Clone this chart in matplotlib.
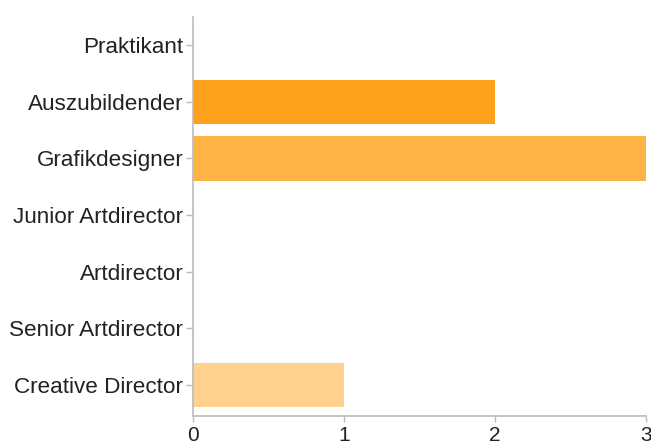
import matplotlib
matplotlib.use('Agg')
import matplotlib.pyplot as plt

categories = ['Praktikant', 'Auszubildender', 'Grafikdesigner', 'Junior Artdirector',
              'Artdirector', 'Senior Artdirector', 'Creative Director']
counts = [0, 2, 3, 0, 0, 0, 1]
barColors = ['#FF8C00', '#FFA01C', '#FFB347', '#FFBE5C', '#FFC670', '#FFCC80', '#FFD38E']
xTicks = [0, 1, 2, 3]

plt.rcParams['font.family'] = ['Liberation Sans', 'DejaVu Sans']

fig = plt.figure(figsize=(6.51, 4.46), dpi=100)
ax = fig.add_axes([193/651, 1 - 416/446, (646 - 193)/651, (416 - 17)/446])

positions = list(range(len(categories)))
ax.barh(positions, counts, height=0.79, color=barColors)

ax.set_yticks(positions)
ax.set_yticklabels(categories)
ax.set_xticks(xTicks)
ax.set_xticklabels([str(t) for t in xTicks])
ax.set_xlim(0, 3)
ax.set_ylim(6.55, -0.5)

for side in ['top', 'right']:
    ax.spines[side].set_visible(False)
for side in ['left', 'bottom']:
    ax.spines[side].set_color('#BBBBBB')
    ax.spines[side].set_linewidth(1.2)

ax.tick_params(axis='y', length=5, width=1, color='#BBBBBB', pad=2, labelsize=16.2, labelcolor='#222222')
ax.tick_params(axis='x', length=4, width=1, color='#BBBBBB', pad=3, labelsize=15, labelcolor='#222222')

fig.savefig('out.png', dpi=100)
